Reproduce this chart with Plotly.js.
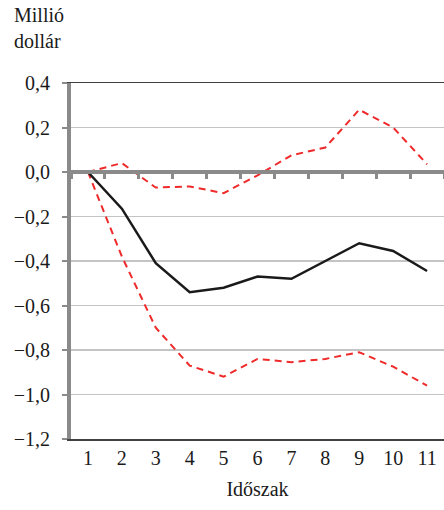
<!DOCTYPE html>
<html>
<head>
<meta charset="utf-8">
<script src="https://cdn.plot.ly/plotly-3.0.1.min.js"></script>
<style>html,body{margin:0;padding:0;background:#fff;}#chart{width:444px;height:510px;}</style>
</head>
<body>
<div id="chart"></div>
<script>
const periods = ['1','2','3','4','5','6','7','8','9','10','11'];
const estimate = [0, -0.165, -0.41, -0.54, -0.52, -0.47, -0.48, -0.40, -0.32, -0.355, -0.445];
const upperBand = [0, 0.04, -0.07, -0.065, -0.095, -0.015, 0.075, 0.11, 0.28, 0.20, 0.035];
const lowerBand = [0, -0.38, -0.70, -0.87, -0.92, -0.84, -0.855, -0.84, -0.81, -0.875, -0.96];
const yTitle = 'Millió<br>dollár';
const xTitle = 'Időszak';

const W = 444, H = 510, L = 71, R = 0, T = 83, B = 70.5;
const ph = H - T - B, pw = W - L - R;
const font = {family: '"Liberation Serif", "Times New Roman", serif', size: 20, color: '#1a1a1a'};
const red = '#ee2a2a';

const traces = [
  {x: periods, y: upperBand, type: 'scatter', mode: 'lines', xaxis: 'x', yaxis: 'y',
   line: {color: red, width: 2, dash: '7px,5px'}, hoverinfo: 'skip'},
  {x: periods, y: lowerBand, type: 'scatter', mode: 'lines', xaxis: 'x', yaxis: 'y',
   line: {color: red, width: 2, dash: '7px,5px'}, hoverinfo: 'skip'},
  {x: periods, y: estimate, type: 'scatter', mode: 'lines', xaxis: 'x2', yaxis: 'y',
   line: {color: '#1a1a1a', width: 2.5}, hoverinfo: 'skip'}
];

const layout = {
  width: W, height: H,
  margin: {l: L, r: R, t: T, b: B, pad: 0},
  paper_bgcolor: '#fff', plot_bgcolor: '#fff',
  showlegend: false,
  separators: ',.',
  font: font,
  xaxis: {
    type: 'category', range: [-0.5, 10.5],
    showline: true, linecolor: '#404040', linewidth: 1.5, mirror: true,
    ticks: '', showgrid: false, zeroline: false,
    tickfont: font,
    title: {text: xTitle, font: font, standoff: 14}
  },
  xaxis2: {
    type: 'category', range: [-0.5, 10.5],
    overlaying: 'x', anchor: 'free', position: 0.75, side: 'bottom',
    showline: true, linecolor: '#8a8a8a', linewidth: 4,
    ticks: 'outside', tickson: 'boundaries', ticklen: 5, tickwidth: 3, tickcolor: '#8a8a8a',
    showticklabels: false, showgrid: false, zeroline: false
  },
  yaxis: {
    range: [-1.2, 0.4], tick0: 0, dtick: 0.2, tickformat: '.1f',
    showline: true, linecolor: '#8a8a8a', linewidth: 4,
    ticks: 'outside', ticklen: 5, tickwidth: 2, tickcolor: '#8a8a8a',
    showgrid: true, gridcolor: '#c4c4c4', gridwidth: 1.5,
    zeroline: false, tickfont: font, ticklabelstandoff: 8
  },
  annotations: [{
    text: yTitle, showarrow: false, xref: 'paper', yref: 'paper',
    xanchor: 'left', yanchor: 'top', align: 'left',
    x: (12 - L) / pw, y: (H - B - 2) / ph,
    font: font
  }]
};

Plotly.newPlot('chart', traces, layout, {staticPlot: true, displayModeBar: false});
</script>
</body>
</html>
